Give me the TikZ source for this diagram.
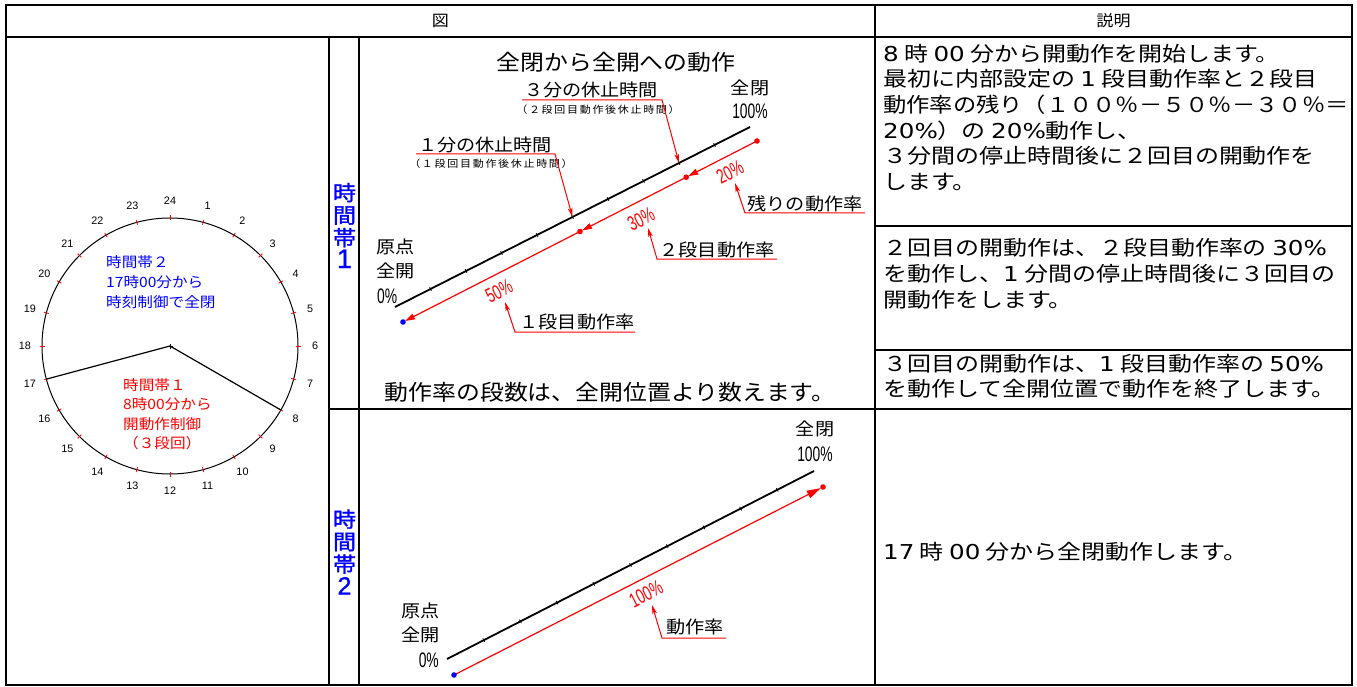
\documentclass[tikz,border=0pt]{standalone}
\usepackage{fontspec}
\setmainfont{Noto Sans CJK JP}
\newfontfamily\jp[FakeStretch=1.1]{Noto Sans CJK JP}
\newfontfamily\jpw[FakeStretch=1.17]{Noto Sans CJK JP}
\newfontfamily\jpn[FakeStretch=1.135]{Noto Sans CJK JP}
\newfontfamily\jps[FakeStretch=1.1,LetterSpace=17]{Noto Sans CJK JP}
\newfontfamily\jpb[FakeStretch=1.1,FakeBold=1.5]{Noto Sans CJK JP}
\newfontfamily\vdig[FakeBold=1.2]{Liberation Sans}
\newfontfamily\dg[FakeStretch=1.2]{DejaVu Sans}
\newfontfamily\cond[FakeStretch=0.66]{Liberation Sans}
\newfontfamily\numf{Liberation Sans}
\usetikzlibrary{arrows.meta,calc}
\newcommand\fsz[1]{\fontsize{#1}{#1}\selectfont}
\newcommand\dn[1]{{\dg #1}}
\begin{document}
\begin{tikzpicture}[x=1pt,y=-1pt,
  tbl/.style={line width=2.2pt},
  hdr/.style={font=\jp\fsz{15.5}, inner sep=0},
  hour/.style={font=\numf\fsz{10.8}, inner sep=0},
  clk/.style={font=\jp\fsz{14.2}, inner sep=0, anchor=base west},
  vlab/.style={font=\jpb\fontsize{21}{22.5}\selectfont, text=blue, align=center, inner sep=0},
  ttl/.style={font=\jp\fsz{21.7}, inner sep=0},
  lbl/.style={font=\jp\fsz{17.4}, inner sep=0},
  sublbl/.style={font=\jps\fsz{10}, inner sep=0},
  pctt/.style={font=\cond\fsz{21}, inner sep=0},
  pct/.style={font=\cond\fsz{20.5}, text=red, inner sep=0, rotate=27},
  desc/.style={font=\jpw\fsz{20.5}, inner sep=0, anchor=base west},
  axisline/.style={line width=1.8pt},
  meas/.style={red, line width=1.2pt},
  leader/.style={red, line width=1pt, -{Stealth[length=9pt,width=4.5pt,inset=2pt]}}
]
\useasboundingbox (0,0) rectangle (1357,687);
\fill[white] (0,0) rectangle (1357,687);

% ---- table grid ----
\draw[tbl] (6,5) rectangle (1352,685);
\draw[tbl] (6,37) -- (1352,37);
\draw[tbl] (875,5) -- (875,685);
\draw[tbl] (329,37) -- (329,685);
\draw[tbl] (359,37) -- (359,685);
\draw[tbl] (329,409) -- (1352,409);
\draw[tbl] (875,226) -- (1352,226);
\draw[tbl] (875,350) -- (1352,350);

\node[hdr] (hfig) at (440.5,21) {図};
\node[hdr] (hdesc) at (1113.5,21) {説明};

% ---- clock ----
\coordinate (C) at (170,346);
\draw[line width=1pt] (C) circle[radius=128];
\foreach \h in {1,...,24} {
  \draw[red, line width=0.8pt] ($(C)+(-90+15*\h:125.5)$) -- ($(C)+(-90+15*\h:130.5)$);
  \node[hour] (hr\h) at ($(C)+(-90+15*\h:145)$) {\h};
}
\coordinate (E17) at ($(C)+(165:128)$);
\coordinate (E8) at ($(C)+(30:128)$);
\draw[line width=1.2pt] (E17) -- (C) -- (E8);
\draw[line width=0.6pt] ($(C)+(-2.5,0)$) -- ($(C)+(2.5,0)$) ($(C)+(0,-2.5)$) -- ($(C)+(0,2.5)$);

\node[clk, text=blue] (tzb1) at (106,267.4) {時間帯２};
\node[clk, text=blue] (tzb2) at (106,287.4) {17時00分から};
\node[clk, text=blue] (tzb3) at (106,307.4) {時刻制御で全閉};
\node[clk, text=red] (tzr1) at (123,390) {時間帯１};
\node[clk, text=red] (tzr2) at (123,409.5) {8時00分から};
\node[clk, text=red] (tzr3) at (123,429) {開動作制御};
\node[clk, text=red] (tzr4) at (123,448.5) {（３段回）};

% ---- vertical labels ----
\node[vlab] (v1) at (344.5,225.5) {時\\間\\帯\\{\vdig\fontsize{27}{22.5}\selectfont 1}};
\node[vlab] (v2) at (344.5,552) {時\\間\\帯\\{\vdig\fontsize{25}{22.5}\selectfont 2}};

% ---- upper diagram ----
\node[ttl] (title) at (616,62) {全閉から全開への動作};
\coordinate (A0) at (395,307);
\coordinate (A1) at (750,127);
\draw[axisline] (A0) -- (A1);
\foreach \i in {1,...,9} {
  \draw[line width=0.8pt] ($(A0)!\i/10!(A1)!2pt!90:(A1)$) -- ($(A0)!\i/10!(A1)!2pt!-90:(A1)$);
}
\coordinate (P0) at (757,141);
\coordinate (P3) at (403,322);
\coordinate (P1) at ($(P3)!0.8!(P0)$);
\coordinate (P2) at ($(P3)!0.5!(P0)$);
\draw[meas, -{Triangle[length=10pt,width=6pt]}, shorten >=2.2pt] (P0) -- (P1);
\draw[meas, -{Triangle[length=10pt,width=6pt]}, shorten >=2.2pt] (P1) -- (P2);
\draw[meas, -{Triangle[length=10pt,width=6pt]}, shorten >=2.2pt] (P2) -- (P3);
\fill[red] (P0) circle[radius=2.8];
\fill[red] (P1) circle[radius=2.8];
\fill[red] (P2) circle[radius=2.8];
\fill[blue] (P3) circle[radius=2.8];

\node[pct] (p20) at (730,172) {20\%};
\node[pct] (p30) at (641,219) {30\%};
\node[pct] (p50) at (499,291) {50\%};

\node[lbl] (top100a) at (750,88) {全閉};
\node[pctt] (top100b) at (750,111) {100\%};
\node[lbl, anchor=west] (org1) at (376,247) {原点};
\node[lbl, anchor=west] (org2) at (376,271) {全開};
\node[pctt, anchor=west] (org3) at (377,296) {0\%};

\node[lbl] (rest3) at (591,90) {３分の休止時間};
\node[sublbl] (rest3s) at (598,110) {（２段回目動作後休止時間）};
\coordinate (u3L) at (522,100);
\coordinate (u3R) at (662,100);
\coordinate (tip3) at ($(A0)!0.8!(A1)$);
\draw[leader] (u3L) -- (u3R) -- (tip3);

\node[lbl] (rest1) at (485,145) {１分の休止時間};
\node[sublbl] (rest1s) at (491,164) {（１段回目動作後休止時間）};
\coordinate (u1L) at (416,154);
\coordinate (u1R) at (555,154);
\coordinate (tip1) at ($(A0)!0.5!(A1)$);
\draw[leader] (u1L) -- (u1R) -- (tip1);

\node[lbl] (lrest) at (805,204) {残りの動作率};
\coordinate (urL) at (745,213);
\coordinate (urR) at (865,213);
\coordinate (tipr) at (735,183);
\draw[leader] (urR) -- (urL) -- (tipr);

\node[lbl] (l2) at (717,250) {２段目動作率};
\coordinate (u2L) at (657,259);
\coordinate (u2R) at (777,259);
\coordinate (tip2) at (648,228);
\draw[leader] (u2R) -- (u2L) -- (tip2);

\node[lbl] (l1) at (577,322) {１段目動作率};
\coordinate (ulL) at (515,332);
\coordinate (ulR) at (635,332);
\coordinate (tipl) at (505,302);
\draw[leader] (ulR) -- (ulL) -- (tipl);

\node[ttl] (note) at (610,392) {動作率の段数は、全開位置より数えます。};

% ---- lower diagram ----
\coordinate (B0) at (447,659);
\coordinate (B1) at (814,471);
\draw[axisline] (B0) -- (B1);
\foreach \i in {1,...,9} {
  \draw[line width=0.8pt] ($(B0)!\i/10!(B1)!2pt!90:(B1)$) -- ($(B0)!\i/10!(B1)!2pt!-90:(B1)$);
}
\coordinate (Q0) at (454,675);
\coordinate (Q1) at (823,487);
\draw[meas, -{Triangle[length=14pt,width=8pt]}, shorten >=2.5pt] (Q0) -- (Q1);
\fill[red] (Q1) circle[radius=2.8];
\fill[blue] (Q0) circle[radius=2.8];
\node[pct] (p100) at (646,594) {100\%};

\node[lbl] (bot100a) at (815,429) {全閉};
\node[pctt] (bot100b) at (815,454) {100\%};
\node[lbl, anchor=east] (borg1) at (440,611) {原点};
\node[lbl, anchor=east] (borg2) at (440,635) {全開};
\node[pctt, anchor=east] (borg3) at (439,660) {0\%};

\node[lbl] (lrate) at (695,627) {動作率};
\coordinate (uaL) at (662,638);
\coordinate (uaR) at (726,638);
\coordinate (tipa) at (652,605);
\draw[leader] (uaR) -- (uaL) -- (tipa);

% ---- description column ----
\node[desc] (d11) at (883,61.3) {\dn{8} 時 \dn{00} 分から開動作を開始します。};
\node[desc] (d12) at (883,86.9) {最初に内部設定の \dn{1} 段目動作率と２段目};
\node[desc, font=\jpn\fsz{20.5}] (d13) at (883,112.5) {動作率の残り（１００％－５０％－３０％＝};
\node[desc] (d14) at (883,138.1) {\dn{20\%}）の \dn{20\%}動作し、};
\node[desc] (d15) at (883,163.7) {３分間の停止時間後に２回目の開動作を};
\node[desc] (d16) at (883,189.3) {します。};

\node[desc] (d21) at (883,255.8) {２回目の開動作は、２段目動作率の \dn{30\%}};
\node[desc] (d22) at (883,281.4) {を動作し、\dn{1} 分間の停止時間後に３回目の};
\node[desc] (d23) at (883,307) {開動作をします。};

\node[desc] (d31) at (883,371.3) {３回目の開動作は、\dn{1} 段目動作率の \dn{50\%}};
\node[desc] (d32) at (883,396.9) {を動作して全開位置で動作を終了します。};

\node[desc] (d41) at (883,559) {\dn{17} 時 \dn{00} 分から全閉動作します。};
\end{tikzpicture}
\end{document}
